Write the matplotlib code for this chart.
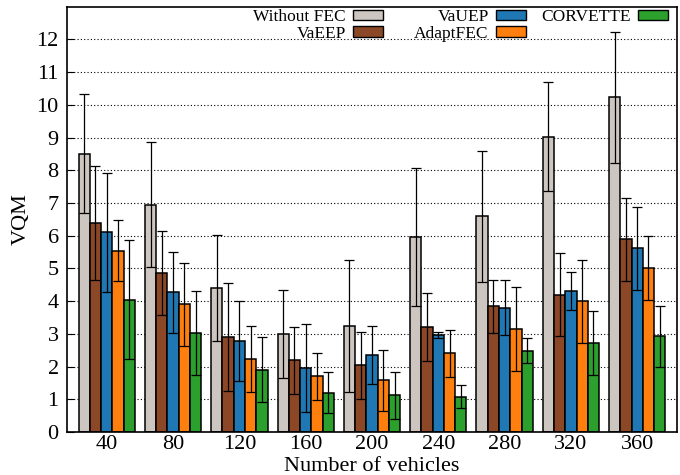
import matplotlib
matplotlib.use("Agg")
import matplotlib.pyplot as plt
from matplotlib.patches import Patch
import numpy as np

categories = ["40", "80", "120", "160", "200", "240", "280", "320", "360"]
series_names = ["Without FEC", "VaEEP", "VaUEP", "AdaptFEC", "CORVETTE"]

without_fec = [8.50, 6.95, 4.40, 3.00, 3.25, 5.96, 6.60, 9.03, 10.23]
without_fec_err = [1.82, 1.92, 1.63, 1.35, 2.02, 2.10, 2.00, 1.66, 2.01]
vaeep = [6.40, 4.85, 2.89, 2.19, 2.04, 3.22, 3.84, 4.20, 5.89]
vaeep_err = [1.74, 1.28, 1.65, 1.02, 1.03, 1.04, 0.82, 1.27, 1.27]
vauep = [6.10, 4.27, 2.77, 1.95, 2.35, 2.96, 3.80, 4.31, 5.61]
vauep_err = [1.83, 1.24, 1.22, 1.34, 0.88, 0.10, 0.85, 0.57, 1.28]
adaptfec = [5.54, 3.90, 2.23, 1.70, 1.58, 2.40, 3.14, 3.99, 5.00]
adaptfec_err = [0.93, 1.28, 1.02, 0.73, 0.93, 0.73, 1.29, 1.28, 0.98]
corvette = [4.05, 3.03, 1.91, 1.20, 1.12, 1.08, 2.49, 2.71, 2.92]
corvette_err = [1.83, 1.29, 0.98, 0.63, 0.72, 0.36, 0.37, 0.98, 0.94]

colors = ["#cdc5bf", "#8b4726", "#1f77b4", "#ff7f0e", "#2ca02c"]

plt.rcParams["font.family"] = ["Liberation Serif", "DejaVu Serif"]

W, H = 680, 475
fig = plt.figure(figsize=(6.8, 4.75), dpi=100)
ax = fig.add_axes([0.0985, 0.0905, 0.8971, 0.8954])

values = [without_fec, vaeep, vauep, adaptfec, corvette]
errors = [without_fec_err, vaeep_err, vauep_err, adaptfec_err, corvette_err]
x = np.arange(len(categories))
w = 0.17
for i, (vals, errs, c, name) in enumerate(zip(values, errors, colors, series_names)):
    pos = x + (i - 2) * w
    ax.bar(pos, vals, width=w, color=c, edgecolor="black", linewidth=1.1,
           label=name, zorder=2)
    ax.errorbar(pos, vals, yerr=errs, fmt="none", ecolor="black",
                elinewidth=0.9, capsize=3.8, capthick=0.9, zorder=3)

ax.set_xlim(-0.6, 8.6)
ax.set_ylim(0, 13)
ax.set_yticks(range(0, 13))
ax.set_xticks(x)
ax.set_xticklabels(categories)
ax.tick_params(axis="y", direction="in", length=5, labelsize=16, pad=6)
ax.tick_params(axis="x", length=0, labelsize=16, pad=2)
for yv in range(1, 13):
    ax.axhline(yv, color="black", linestyle=(0, (1, 2)), linewidth=0.8, zorder=1)
for s in ax.spines.values():
    s.set_linewidth(1.2)

ax.set_ylabel("VQM", fontsize=16, labelpad=4)
ax.set_xlabel("Number of vehicles", fontsize=16, labelpad=2.5)

# legend in three columns (gnuplot style: label left of sample)
handles = [Patch(facecolor=c, edgecolor="black", linewidth=1.0) for c in colors]
columns = [[0, 1], [2, 3], [4]]
col_right_px = [383, 526, 668]
for idxs, xr in zip(columns, col_right_px):
    leg = fig.legend([handles[k] for k in idxs], [series_names[k] for k in idxs],
                     loc="upper right", bbox_to_anchor=(xr / W, 1 - 9 / H),
                     frameon=False, markerfirst=False, fontsize=12.5,
                     handlelength=1.7, handleheight=0.55, handletextpad=0.45,
                     labelspacing=0.05, borderpad=0, borderaxespad=0)

fig.savefig("out.png", dpi=100)
